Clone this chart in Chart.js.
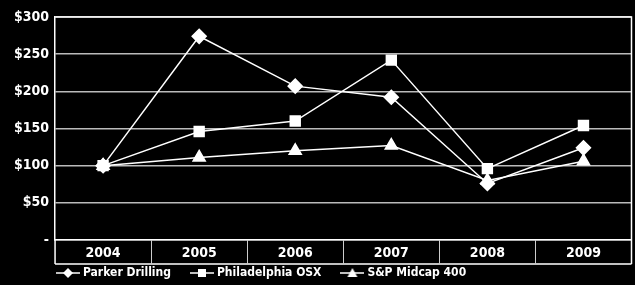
<!DOCTYPE html>
<html>
<head>
<meta charset="utf-8">
<script src="https://cdn.jsdelivr.net/npm/chart.js@4/dist/chart.umd.min.js"></script>
<style>
  html, body { margin: 0; padding: 0; background: #000; overflow: hidden; }
  canvas { display: block; }
</style>
</head>
<body>
<canvas id="myChart" width="640" height="285"></canvas>
<script>
const years = ["2004", "2005", "2006", "2007", "2008", "2009"];
const parker = [100, 274, 207, 192, 76, 124];
const osx = [100, 146, 160, 242, 96, 154];
const midcap = [100, 111, 120, 127, 80, 106];
const yTicks = [0, 50, 100, 150, 200, 250, 300];

const FONT = "'Liberation Sans Narrow', 'DejaVu Sans Condensed', sans-serif";

function legendIcon(style) {
  const c = document.createElement("canvas");
  c.width = 24;
  c.height = 14;
  const ctx = c.getContext("2d");
  ctx.strokeStyle = "#fff";
  ctx.fillStyle = "#fff";
  ctx.lineWidth = 1.5;
  ctx.beginPath();
  ctx.moveTo(0, 7);
  ctx.lineTo(24, 7);
  ctx.stroke();
  ctx.beginPath();
  if (style == "diamond") {
    ctx.moveTo(12, 2); ctx.lineTo(17, 7); ctx.lineTo(12, 12); ctx.lineTo(7, 7);
  } else if (style == "square") {
    ctx.rect(8, 3, 8, 8);
  } else {
    ctx.moveTo(12, 2); ctx.lineTo(17, 11); ctx.lineTo(7, 11);
  }
  ctx.closePath();
  ctx.fill();
  return c;
}

// frame of the plot plus the boxed row of year labels
const boxPlugin = {
  id: "boxPlugin",
  afterLayout(chart) {
    chart.legend.left += 29;
    chart.legend.right += 29;
    chart.legend.top -= 19;
    chart.legend.bottom -= 19;
  },
  afterDraw(chart) {
    const x = chart.scales.x;
    const area = chart.chartArea;
    const ctx = chart.ctx;
    ctx.save();
    ctx.strokeStyle = "#fff";
    ctx.lineWidth = 1.5;
    ctx.beginPath();
    ctx.moveTo(area.left, area.top);
    ctx.lineTo(area.right, area.top);
    ctx.lineTo(area.right, area.bottom);
    ctx.moveTo(area.left, x.top + 24);
    ctx.lineTo(area.right, x.top + 24);
    ctx.moveTo(area.left, x.top);
    ctx.lineTo(area.left, x.top + 24);
    ctx.moveTo(area.right, x.top);
    ctx.lineTo(area.right, x.top + 24);
    ctx.stroke();
    ctx.lineWidth = 1;
    ctx.strokeStyle = "#ccc";
    ctx.beginPath();
    const step = x.width / years.length;
    for (let i = 1; i < years.length; i++) {
      const px = Math.round(x.left + i * step) + 0.5;
      ctx.moveTo(px, x.top);
      ctx.lineTo(px, x.top + 24);
    }
    ctx.stroke();
    ctx.restore();
  },
};

function ds(label, data, style, pointStyle, radius) {
  return {
    label: label,
    data: data,
    borderColor: "#fff",
    backgroundColor: "#fff",
    borderWidth: 1.5,
    pointStyle: pointStyle,
    pointRadius: radius,
    pointBackgroundColor: "#fff",
    pointBorderColor: "#fff",
    icon: legendIcon(style),
  };
}

const chart = new Chart("myChart", {
  type: "line",
  data: {
    labels: years,
    datasets: [
      ds("Parker Drilling", parker, "diamond", "rectRot", 7),
      ds("Philadelphia OSX", osx, "square", "rect", 7),
      ds("S&P Midcap 400", midcap, "triangle", "triangle", 7),
    ],
  },
  options: {
    responsive: false,
    devicePixelRatio: 1,
    animation: false,
    layout: { padding: { top: 17, right: 3, left: 8, bottom: -23 } },
    plugins: {
      tooltip: { enabled: false },
      legend: {
        position: "bottom",
        align: "start",
        labels: {
          color: "#fff",
          font: { family: FONT, size: 12, weight: "bold" },
          usePointStyle: true,
          pointStyleWidth: 18,
          padding: 22,
          generateLabels(chart) {
            return chart.data.datasets.map((d, i) => ({
              text: d.label,
              fontColor: "#fff",
              pointStyle: d.icon,
              datasetIndex: i,
              lineWidth: 0,
            }));
          },
        },
      },
    },
    scales: {
      x: {
        offset: true,
        afterFit(axis) {
          axis.height = 24;
          axis.paddingLeft = 0;
          axis.paddingRight = 0;
        },
        grid: {
          display: true,
          offset: true,
          drawOnChartArea: false,
          drawTicks: false,
        },
        border: { color: "#fff", width: 1.5 },
        ticks: {
          color: "#fff",
          padding: 5,
          font: { family: FONT, size: 14, weight: "bold" },
        },
      },
      y: {
        min: 0,
        max: 300,
        afterBuildTicks(axis) {
          axis.ticks = yTicks.map((v) => ({ value: v }));
        },
        grid: { color: "#bbb", lineWidth: 1.5, drawTicks: false },
        border: { color: "#fff", width: 1.5 },
        ticks: {
          color: "#fff",
          padding: 6,
          font: { family: FONT, size: 14, weight: "bold" },
          callback: (v) => (v == 0 ? "-" : "$" + v),
        },
      },
    },
  },
  plugins: [boxPlugin],
});
</script>
</body>
</html>
